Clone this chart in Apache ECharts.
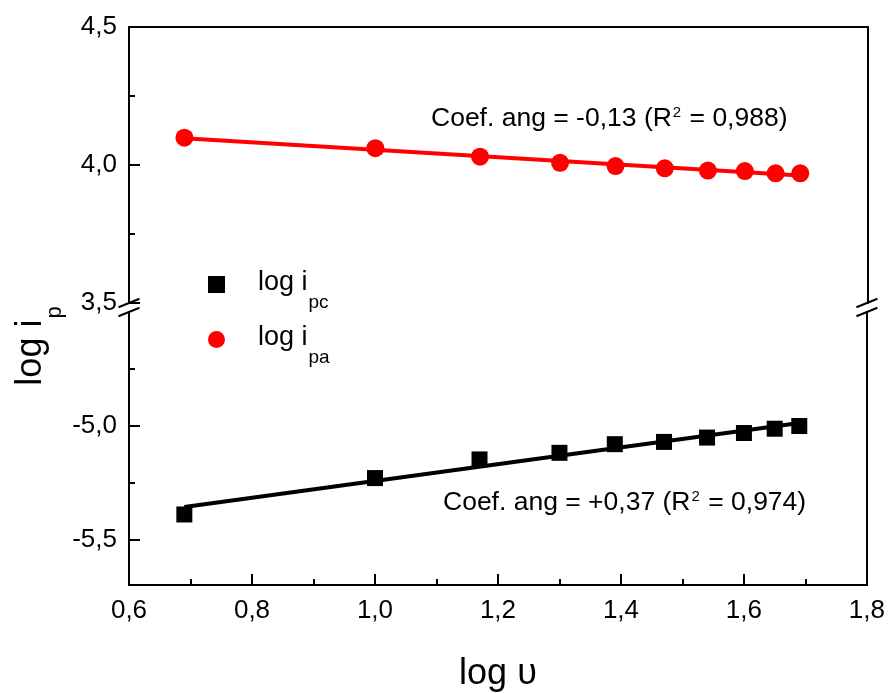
<!DOCTYPE html>
<html>
<head>
<meta charset="utf-8">
<script src="https://cdn.jsdelivr.net/npm/echarts@6/dist/echarts.min.js"></script>
<style>
  html, body { margin: 0; padding: 0; background: #fff; }
  #chart { width: 888px; height: 693px; }
</style>
</head>
<body>
<div id="chart"></div>
<script>
// log of scan rate (x) and log of peak currents (anodic / cathodic)
const logV = [0.69, 1.00, 1.17, 1.30, 1.39, 1.47, 1.54, 1.60, 1.65, 1.69];
const logIpa = [4.099, 4.061, 4.030, 4.008, 3.996, 3.988, 3.980, 3.978, 3.970, 3.970];
const logIpc = [-5.390, -5.230, -5.148, -5.119, -5.081, -5.071, -5.052, -5.032, -5.013, -5.001];

const xTicks = [0.6, 0.8, 1.0, 1.2, 1.4, 1.6, 1.8];
const upperTicks = [3.5, 4.0, 4.5];
const lowerTicks = [-5.5, -5.0];
const lowerMinorTicks = [-5.25, -4.75];

const fitTextPa = ['Coef. ang = -0,13 (R', '2', ' = 0,988)'];
const fitTextPc = ['Coef. ang = +0,37 (R', '2', ' = 0,974)'];

const FONT = 'Liberation Sans, Arial, sans-serif';
const comma = v => (Math.round(v * 10) / 10).toFixed(1).replace('.', ',');

// least-squares line evaluated at the first and last x
function fitLine(xs, ys) {
  const n = xs.length;
  const mx = xs.reduce((a, b) => a + b, 0) / n;
  const my = ys.reduce((a, b) => a + b, 0) / n;
  let sxy = 0, sxx = 0;
  for (let i = 0; i < n; i++) { sxy += (xs[i] - mx) * (ys[i] - my); sxx += (xs[i] - mx) ** 2; }
  const k = sxy / sxx;
  const x0 = xs[0], x1 = xs[n - 1];
  return [[x0, my + k * (x0 - mx)], [x1, my + k * (x1 - mx)]];
}

const paPoints = logV.map((x, i) => [x, logIpa[i]]);
const pcPoints = logV.map((x, i) => [x, logIpc[i]]);

const lineStyleAxis = { color: '#000', width: 2 };

const chart = echarts.init(document.getElementById('chart'), null, { renderer: 'canvas' });

const option = {
  animation: false,
  backgroundColor: '#fff',
  textStyle: { fontFamily: FONT },
  grid: [
    { left: 129, right: 20, top: 27, height: 276 },
    { left: 129, right: 20, top: 312, bottom: 105 }
  ],
  xAxis: [
    {
      type: 'value', gridIndex: 0, position: 'top', min: 0.6, max: 1.8,
      axisLine: { show: true, onZero: false, lineStyle: lineStyleAxis },
      axisTick: { show: false }, axisLabel: { show: false }, splitLine: { show: false }
    },
    {
      type: 'value', gridIndex: 1, position: 'bottom', min: 0.6, max: 1.8, interval: 0.2,
      name: 'log \u03c5', nameLocation: 'middle', nameGap: 71,
      nameTextStyle: { fontSize: 36, color: '#000', fontFamily: FONT },
      axisLine: { show: true, onZero: false, lineStyle: lineStyleAxis },
      axisTick: { show: true, inside: true, length: 11, lineStyle: { width: 2, color: '#000' } },
      minorTick: { show: true, splitNumber: 2, length: 6, lineStyle: { width: 2, color: '#000' } },
      axisLabel: { fontSize: 26, color: '#000', margin: 13, formatter: comma, fontFamily: FONT },
      splitLine: { show: false }
    }
  ],
  yAxis: [
    {
      type: 'value', gridIndex: 0, position: 'left', min: 3.5, max: 4.5, interval: 0.5,
      axisLine: { show: true, onZero: false, lineStyle: lineStyleAxis },
      axisTick: { show: true, inside: true, length: 11, lineStyle: { width: 2, color: '#000' } },
      minorTick: { show: true, splitNumber: 2, length: 6, lineStyle: { width: 2, color: '#000' } },
      axisLabel: { fontSize: 26, color: '#000', margin: 12, formatter: comma, fontFamily: FONT },
      splitLine: { show: false }
    },
    {
      type: 'value', gridIndex: 0, position: 'right', min: 3.5, max: 4.5,
      axisLine: { show: true, onZero: false, lineStyle: lineStyleAxis },
      axisTick: { show: false }, axisLabel: { show: false }, splitLine: { show: false }
    },
    {
      type: 'value', gridIndex: 1, position: 'left', min: -5.7, max: -4.5,
      axisLine: { show: true, onZero: false, lineStyle: lineStyleAxis },
      axisTick: { show: true, inside: true, length: 11, customValues: lowerTicks, lineStyle: { width: 2, color: '#000' } },
      axisLabel: { fontSize: 26, color: '#000', margin: 12, customValues: lowerTicks, formatter: comma, fontFamily: FONT },
      splitLine: { show: false }
    },
    {
      type: 'value', gridIndex: 1, position: 'left', min: -5.7, max: -4.5,
      axisLine: { show: false },
      axisTick: { show: true, inside: true, length: 6, customValues: lowerMinorTicks, lineStyle: { width: 2, color: '#000' } },
      axisLabel: { show: false }, splitLine: { show: false }
    },
    {
      type: 'value', gridIndex: 1, position: 'right', min: -5.7, max: -4.5,
      axisLine: { show: true, onZero: false, lineStyle: lineStyleAxis },
      axisTick: { show: false }, axisLabel: { show: false }, splitLine: { show: false }
    }
  ],
  legend: {
    orient: 'vertical', left: 208, top: 269.5, padding: 0, itemGap: 5,
    itemWidth: 17, itemHeight: 17,
    data: ['log i_pc', 'log i_pa'],
    formatter: name => {
      const parts = name.split('_');
      return '{a|' + parts[0] + '}{s|' + parts[1] + '}';
    },
    textStyle: {
      color: '#000', fontFamily: FONT,
      rich: {
        a: { fontSize: 27, lineHeight: 30, verticalAlign: 'top', padding: [0, 0, 0, 28], fontFamily: FONT, color: '#000' },
        s: { fontSize: 19, lineHeight: 20, verticalAlign: 'top', padding: [23.5, 0, 7.5, 1], fontFamily: FONT, color: '#000' }
      }
    }
  },
  series: [
    {
      name: 'fit pa', type: 'line', xAxisIndex: 0, yAxisIndex: 0,
      data: fitLine(logV, logIpa), showSymbol: false, symbol: 'none',
      lineStyle: { color: '#ff0000', width: 4 }, z: 2, silent: true
    },
    {
      name: 'log i_pa', type: 'scatter', xAxisIndex: 0, yAxisIndex: 0,
      data: paPoints, symbol: 'circle', symbolSize: 18,
      itemStyle: { color: '#ff0000', opacity: 1 }, z: 3
    },
    {
      name: 'log i_pc', type: 'scatter', xAxisIndex: 1, yAxisIndex: 2,
      data: pcPoints, symbol: 'rect', symbolSize: 16,
      itemStyle: { color: '#000000', opacity: 1 }, z: 3
    },
    {
      name: 'fit pc', type: 'line', xAxisIndex: 1, yAxisIndex: 2,
      data: fitLine(logV, logIpc), showSymbol: false, symbol: 'none',
      lineStyle: { color: '#000000', width: 4 }, z: 4, silent: true
    }
  ]
};

chart.setOption(option);

// axis title, fit annotations and the axis-break marks
const xL = chart.convertToPixel({ xAxisIndex: 1 }, 0.6);
const xR = chart.convertToPixel({ xAxisIndex: 1 }, 1.8);
const yBreakTop = chart.convertToPixel({ yAxisIndex: 0 }, 3.5);
const yBreakBot = chart.convertToPixel({ yAxisIndex: 2 }, -4.5);

const breakMarks = [];
[xL, xR].forEach(x => {
  [yBreakTop, yBreakBot].forEach(y => {
    breakMarks.push({
      type: 'line', silent: true, z: 10,
      shape: { x1: x - 10.5, y1: y + 4.3, x2: x + 10.5, y2: y - 4.3 },
      style: { stroke: '#000', lineWidth: 2 }
    });
  });
});

const fitRich = {
  n: { fontSize: 26.5, lineHeight: 30, verticalAlign: 'top', fontFamily: FONT, fill: '#000' },
  sup: { fontSize: 15, lineHeight: 16, verticalAlign: 'top', padding: [0, 1, 0, 1], fontFamily: FONT, fill: '#000' }
};
const richText = t => '{n|' + t[0] + '}{sup|' + t[1] + '}{n|' + t[2] + '}';

chart.setOption({
  graphic: [
    {
      type: 'text', x: 33, y: 346, rotation: Math.PI / 2, silent: true,
      style: {
        text: '{a|log i}{s|p}', align: 'center', verticalAlign: 'middle',
        rich: {
          a: { fontSize: 36, lineHeight: 40, verticalAlign: 'top', fontFamily: FONT, fill: '#000' },
          s: { fontSize: 22, lineHeight: 24, verticalAlign: 'top', padding: [31, 0, 0, 1], fontFamily: FONT, fill: '#000' }
        }
      }
    },
    {
      type: 'text', x: 431, y: 105.5, silent: true,
      style: { text: richText(fitTextPa), align: 'left', verticalAlign: 'top', rich: fitRich }
    },
    {
      type: 'text', x: 443, y: 489, silent: true,
      style: { text: richText(fitTextPc), align: 'left', verticalAlign: 'top', rich: fitRich }
    }
  ].concat(breakMarks)
});
</script>
</body>
</html>
